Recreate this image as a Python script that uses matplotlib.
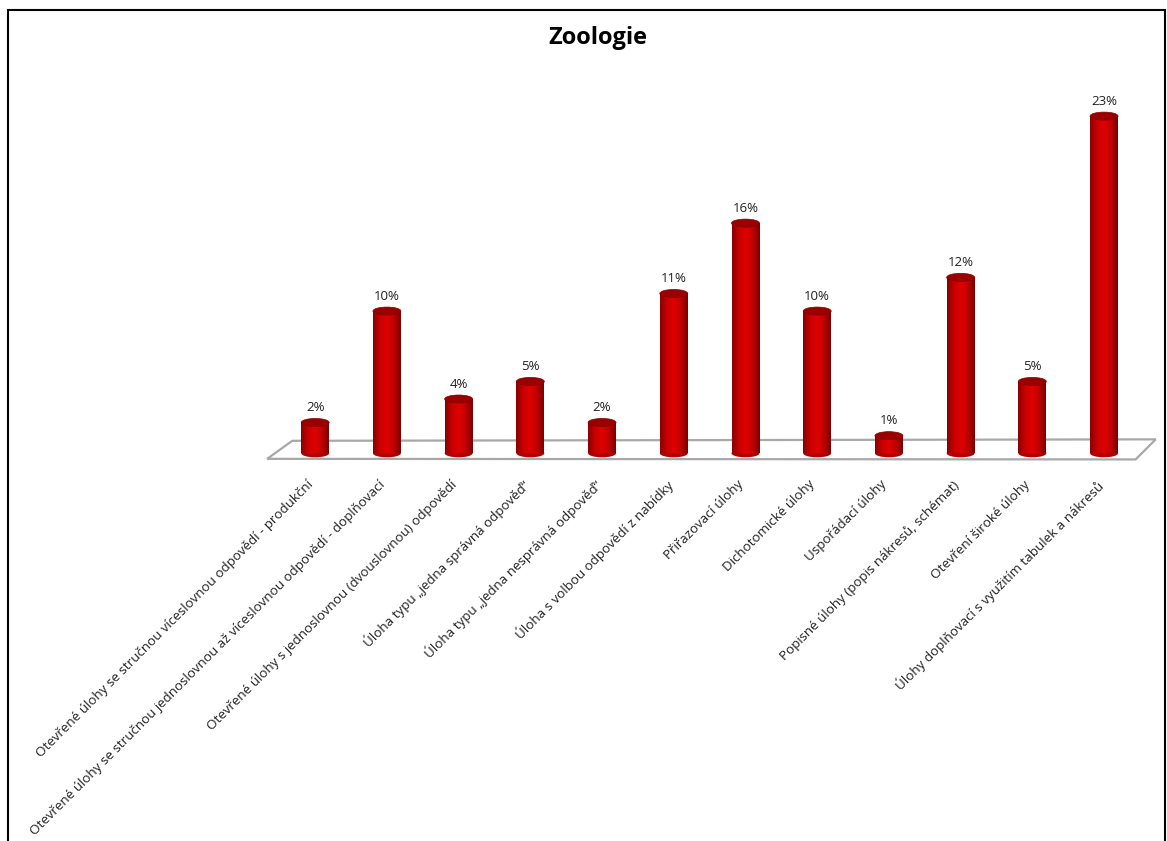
import numpy as np
import matplotlib
matplotlib.use("Agg")
import matplotlib.pyplot as plt
from matplotlib.patches import Ellipse, Polygon, Rectangle
from matplotlib.colors import LinearSegmentedColormap

plt.rcParams['font.family'] = ['Open Sans', 'DejaVu Sans']

categories = [
    "Otevřené úlohy se stručnou víceslovnou odpovědí - produkční",
    "Otevřené úlohy se stručnou jednoslovnou až víceslovnou odpovědí - doplňovací",
    "Otevřené úlohy s jednoslovnou (dvouslovnou) odpovědí",
    "Úloha typu „jedna správná odpověď“",
    "Úloha typu „jedna nesprávná odpověď“",
    "Úloha s volbou odpovědí z nabídky",
    "Přiřazovací úlohy",
    "Dichotomické úlohy",
    "Uspořádací úlohy",
    "Popisné úlohy (popis nákresů, schémat)",
    "Otevření široké úlohy",
    "Úlohy doplňovací s využitím tabulek a nákresů",
]
values = [2.1, 9.7, 3.7, 4.9, 2.1, 10.9, 15.7, 9.7, 1.2, 12.0, 4.9, 23.0]
labels = ["2%", "10%", "4%", "5%", "2%", "11%", "16%", "10%", "1%", "12%", "5%", "23%"]

W, H = 1167, 841
fig = plt.figure(figsize=(W / 100, H / 100), dpi=100)
ax = fig.add_axes([265 / W, 1 - 465 / H, 895 / W, 365 / H])

xlim = (-0.70, 11.78)
ylim = (-0.8, 24.1)

bw = 0.39
eh = 0.55
cyl = LinearSegmentedColormap.from_list(
    "cyl", ["#8a0000", "#c80000", "#e00000", "#c00000", "#7a0000"])
grad = np.linspace(0, 1, 64).reshape(1, -1)

# floor
floor = Polygon([(-0.67, -0.38), (-0.32, 0.85), (11.72, 0.95), (11.44, -0.42)],
                closed=True, facecolor="white", edgecolor="#a8a8a8", lw=1.6,
                zorder=1, clip_on=False)
ax.add_patch(floor)

for i, v in enumerate(values):
    body = ax.bar(i, v, width=bw, color="#c80000", zorder=3)[0]
    im = ax.imshow(grad, cmap=cyl, aspect="auto",
                   extent=(i - bw / 2, i + bw / 2, 0, v), zorder=3.1)
    im.set_clip_path(body)
    ax.add_patch(Ellipse((i, 0), bw, eh, facecolor="#b00000", edgecolor="none", zorder=2.9))
    ax.add_patch(Ellipse((i, v), bw, eh, facecolor="#9a0000", edgecolor="#8a0000",
                         lw=0.5, zorder=3.2))
    ax.annotate(labels[i], (i, v), xytext=(0, 6), textcoords="offset points",
                ha="center", va="bottom", fontsize=9.5, color="#222222")

for i, c in enumerate(categories):
    ax.text(i - 0.12, -0.035, c, transform=ax.get_xaxis_transform(),
            rotation=45, rotation_mode="anchor", ha="right", va="top",
            fontsize=9.6, color="#222222")

ax.set_xlim(*xlim)
ax.set_ylim(*ylim)
ax.axis("off")

fig.text(598 / W, 1 - 38 / H, "Zoologie", ha="center", va="center",
         fontsize=17, fontweight="bold")

fig.add_artist(Rectangle((8 / W, -0.05), (1165 - 8) / W, 1.05 - 10 / H,
                         transform=fig.transFigure, fill=False,
                         edgecolor="black", lw=1.5))

fig.savefig("out.png", dpi=100)
